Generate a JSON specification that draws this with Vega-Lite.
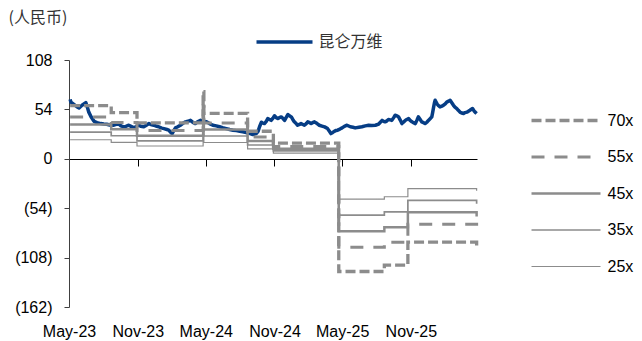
{
  "$schema": "https://vega.github.io/schema/vega-lite/v6.json",
  "width": 408,
  "height": 247,
  "autosize": {"type": "none"},
  "padding": {"left": 69, "top": 60, "right": 165, "bottom": 34},
  "background": "white",
  "config": {"view": {"stroke": null}, "font": "Liberation Sans"},
  "datasets": {
    "price": [
      {"date": "2023-05-04", "price": 65}, {"date": "2023-05-06", "price": 62}, {"date": "2023-05-14", "price": 59.5}, {"date": "2023-05-22", "price": 57}, {"date": "2023-05-28", "price": 55.5},
      {"date": "2023-06-05", "price": 58.5}, {"date": "2023-06-10", "price": 60}, {"date": "2023-06-15", "price": 61.5}, {"date": "2023-06-19", "price": 56.5}, {"date": "2023-06-23", "price": 51},
      {"date": "2023-06-29", "price": 46}, {"date": "2023-07-07", "price": 41}, {"date": "2023-07-15", "price": 39.5}, {"date": "2023-07-25", "price": 38.5}, {"date": "2023-08-02", "price": 38},
      {"date": "2023-08-10", "price": 37.8}, {"date": "2023-08-18", "price": 37}, {"date": "2023-08-29", "price": 36.7}, {"date": "2023-09-06", "price": 38}, {"date": "2023-09-12", "price": 37.8},
      {"date": "2023-09-17", "price": 36}, {"date": "2023-09-25", "price": 34.9}, {"date": "2023-09-30", "price": 35.5}, {"date": "2023-10-08", "price": 36.7}, {"date": "2023-10-14", "price": 35.5},
      {"date": "2023-10-22", "price": 33.8}, {"date": "2023-10-27", "price": 35}, {"date": "2023-11-04", "price": 36.7}, {"date": "2023-11-09", "price": 35.5}, {"date": "2023-11-17", "price": 35},
      {"date": "2023-11-23", "price": 36.5}, {"date": "2023-12-01", "price": 38.5}, {"date": "2023-12-06", "price": 37.5}, {"date": "2023-12-14", "price": 36.7}, {"date": "2023-12-22", "price": 35.5},
      {"date": "2023-12-27", "price": 35}, {"date": "2024-01-04", "price": 33.5}, {"date": "2024-01-10", "price": 33}, {"date": "2024-01-18", "price": 32}, {"date": "2024-01-23", "price": 31.3},
      {"date": "2024-01-28", "price": 29}, {"date": "2024-02-01", "price": 27.6}, {"date": "2024-02-05", "price": 30.5}, {"date": "2024-02-10", "price": 33.8}, {"date": "2024-02-16", "price": 35},
      {"date": "2024-02-23", "price": 36.7}, {"date": "2024-02-29", "price": 38.5}, {"date": "2024-03-08", "price": 40.4}, {"date": "2024-03-14", "price": 41}, {"date": "2024-03-21", "price": 42},
      {"date": "2024-03-27", "price": 40}, {"date": "2024-04-03", "price": 38.5}, {"date": "2024-04-09", "price": 40.5}, {"date": "2024-04-17", "price": 42}, {"date": "2024-04-23", "price": 41},
      {"date": "2024-05-03", "price": 40.4}, {"date": "2024-05-11", "price": 38.5}, {"date": "2024-05-20", "price": 36.7}, {"date": "2024-05-29", "price": 36}, {"date": "2024-06-07", "price": 35},
      {"date": "2024-06-15", "price": 34}, {"date": "2024-06-25", "price": 33}, {"date": "2024-07-04", "price": 32}, {"date": "2024-07-13", "price": 31.3}, {"date": "2024-07-22", "price": 30.8},
      {"date": "2024-07-31", "price": 30}, {"date": "2024-08-08", "price": 29.5}, {"date": "2024-08-17", "price": 28.7}, {"date": "2024-08-26", "price": 27.8}, {"date": "2024-09-04", "price": 26.5},
      {"date": "2024-09-13", "price": 27.6}, {"date": "2024-09-18", "price": 30}, {"date": "2024-09-22", "price": 35}, {"date": "2024-09-27", "price": 40}, {"date": "2024-10-01", "price": 39},
      {"date": "2024-10-05", "price": 38.5}, {"date": "2024-10-10", "price": 41}, {"date": "2024-10-14", "price": 44}, {"date": "2024-10-19", "price": 43}, {"date": "2024-10-23", "price": 42},
      {"date": "2024-10-28", "price": 44.5}, {"date": "2024-11-01", "price": 47}, {"date": "2024-11-06", "price": 45}, {"date": "2024-11-10", "price": 44}, {"date": "2024-11-14", "price": 45},
      {"date": "2024-11-19", "price": 45.8}, {"date": "2024-11-24", "price": 44}, {"date": "2024-11-28", "price": 42}, {"date": "2024-12-02", "price": 45}, {"date": "2024-12-07", "price": 48.4},
      {"date": "2024-12-11", "price": 47}, {"date": "2024-12-16", "price": 45.8}, {"date": "2024-12-20", "price": 43}, {"date": "2024-12-24", "price": 40.4}, {"date": "2024-12-29", "price": 38.5},
      {"date": "2025-01-02", "price": 36.7}, {"date": "2025-01-07", "price": 37.5}, {"date": "2025-01-11", "price": 38.5}, {"date": "2025-01-16", "price": 37.5}, {"date": "2025-01-20", "price": 36.7},
      {"date": "2025-01-25", "price": 38.5}, {"date": "2025-01-29", "price": 40.4}, {"date": "2025-02-03", "price": 39.5}, {"date": "2025-02-07", "price": 38.5}, {"date": "2025-02-11", "price": 39.5},
      {"date": "2025-02-16", "price": 40.4}, {"date": "2025-02-23", "price": 38.5}, {"date": "2025-03-01", "price": 36.7}, {"date": "2025-03-08", "price": 35.8}, {"date": "2025-03-15", "price": 34.9},
      {"date": "2025-03-23", "price": 33}, {"date": "2025-03-28", "price": 30}, {"date": "2025-04-01", "price": 27.6}, {"date": "2025-04-06", "price": 28.8}, {"date": "2025-04-10", "price": 30},
      {"date": "2025-04-15", "price": 31}, {"date": "2025-04-19", "price": 31.3}, {"date": "2025-04-25", "price": 32.5}, {"date": "2025-05-01", "price": 33.8}, {"date": "2025-05-07", "price": 35.5},
      {"date": "2025-05-14", "price": 36.7}, {"date": "2025-05-23", "price": 35}, {"date": "2025-05-30", "price": 34.5}, {"date": "2025-06-05", "price": 33.8}, {"date": "2025-06-15", "price": 34.5},
      {"date": "2025-06-23", "price": 35}, {"date": "2025-07-02", "price": 36}, {"date": "2025-07-11", "price": 36.7}, {"date": "2025-07-19", "price": 36.5}, {"date": "2025-07-29", "price": 36.7},
      {"date": "2025-08-07", "price": 38}, {"date": "2025-08-16", "price": 42}, {"date": "2025-08-20", "price": 41}, {"date": "2025-08-24", "price": 40.4}, {"date": "2025-08-29", "price": 41.5},
      {"date": "2025-09-02", "price": 43}, {"date": "2025-09-07", "price": 42.5}, {"date": "2025-09-11", "price": 42}, {"date": "2025-09-16", "price": 45}, {"date": "2025-09-20", "price": 47.6},
      {"date": "2025-09-25", "price": 47}, {"date": "2025-09-29", "price": 45.8}, {"date": "2025-10-04", "price": 42}, {"date": "2025-10-08", "price": 38.5}, {"date": "2025-10-12", "price": 40},
      {"date": "2025-10-17", "price": 42}, {"date": "2025-10-21", "price": 43}, {"date": "2025-10-26", "price": 44}, {"date": "2025-10-30", "price": 42}, {"date": "2025-11-04", "price": 40.4},
      {"date": "2025-11-08", "price": 39.5}, {"date": "2025-11-13", "price": 38.5}, {"date": "2025-11-17", "price": 42}, {"date": "2025-11-21", "price": 45.8}, {"date": "2025-11-26", "price": 43},
      {"date": "2025-11-30", "price": 40.4}, {"date": "2025-12-05", "price": 39.5}, {"date": "2025-12-09", "price": 38.5}, {"date": "2025-12-14", "price": 40}, {"date": "2025-12-18", "price": 42},
      {"date": "2025-12-23", "price": 44}, {"date": "2025-12-27", "price": 45.8}, {"date": "2025-12-29", "price": 50}, {"date": "2026-01-01", "price": 56.7}, {"date": "2026-01-03", "price": 61},
      {"date": "2026-01-05", "price": 64}, {"date": "2026-01-10", "price": 60}, {"date": "2026-01-14", "price": 58}, {"date": "2026-01-18", "price": 56.7}, {"date": "2026-01-23", "price": 57.5},
      {"date": "2026-01-27", "price": 58.5}, {"date": "2026-02-01", "price": 60}, {"date": "2026-02-05", "price": 62}, {"date": "2026-02-10", "price": 63}, {"date": "2026-02-14", "price": 64},
      {"date": "2026-02-19", "price": 61}, {"date": "2026-02-23", "price": 58.5}, {"date": "2026-02-27", "price": 56.5}, {"date": "2026-03-04", "price": 54.9}, {"date": "2026-03-08", "price": 53},
      {"date": "2026-03-13", "price": 51}, {"date": "2026-03-17", "price": 50}, {"date": "2026-03-22", "price": 49.5}, {"date": "2026-03-26", "price": 50.5}, {"date": "2026-03-31", "price": 51},
      {"date": "2026-04-04", "price": 52}, {"date": "2026-04-08", "price": 53}, {"date": "2026-04-15", "price": 54.9}, {"date": "2026-04-19", "price": 52.5}, {"date": "2026-04-22", "price": 51},
      {"date": "2026-04-26", "price": 49.5}
    ],
    "bands": [
      {"date": "2023-05-04", "band": "70x", "value": 58.1}, {"date": "2023-08-22", "band": "70x", "value": 50.4}, {"date": "2023-10-30", "band": "70x", "value": 39.2},
      {"date": "2024-04-24", "band": "70x", "value": 73.5}, {"date": "2024-04-26", "band": "70x", "value": 49.7}, {"date": "2024-08-21", "band": "70x", "value": 30.1},
      {"date": "2024-10-29", "band": "70x", "value": 17.2}, {"date": "2025-04-22", "band": "70x", "value": -123.2}, {"date": "2025-08-22", "band": "70x", "value": -116.2},
      {"date": "2025-10-24", "band": "70x", "value": -91.0}, {"date": "2026-04-25", "band": "70x", "value": -91.0}, {"date": "2026-04-26", "band": "70x", "value": -98.0},
      {"date": "2023-05-04", "band": "55x", "value": 45.7}, {"date": "2023-08-22", "band": "55x", "value": 39.6}, {"date": "2023-10-30", "band": "55x", "value": 30.8},
      {"date": "2024-04-24", "band": "55x", "value": 57.8}, {"date": "2024-04-26", "band": "55x", "value": 39.1}, {"date": "2024-08-21", "band": "55x", "value": 23.7},
      {"date": "2024-10-29", "band": "55x", "value": 13.5}, {"date": "2025-04-22", "band": "55x", "value": -96.8}, {"date": "2025-08-22", "band": "55x", "value": -91.3},
      {"date": "2025-10-24", "band": "55x", "value": -71.5}, {"date": "2026-04-25", "band": "55x", "value": -71.5}, {"date": "2026-04-26", "band": "55x", "value": -77.0},
      {"date": "2023-05-04", "band": "45x", "value": 37.4}, {"date": "2023-08-22", "band": "45x", "value": 32.4}, {"date": "2023-10-30", "band": "45x", "value": 25.2},
      {"date": "2024-04-24", "band": "45x", "value": 47.3}, {"date": "2024-04-26", "band": "45x", "value": 32.0}, {"date": "2024-08-21", "band": "45x", "value": 19.4},
      {"date": "2024-10-29", "band": "45x", "value": 11.0}, {"date": "2025-04-22", "band": "45x", "value": -79.2}, {"date": "2025-08-22", "band": "45x", "value": -74.7},
      {"date": "2025-10-24", "band": "45x", "value": -58.5}, {"date": "2026-04-25", "band": "45x", "value": -58.5}, {"date": "2026-04-26", "band": "45x", "value": -63.0},
      {"date": "2023-05-04", "band": "35x", "value": 29.1}, {"date": "2023-08-22", "band": "35x", "value": 25.2}, {"date": "2023-10-30", "band": "35x", "value": 19.6},
      {"date": "2024-04-24", "band": "35x", "value": 36.8}, {"date": "2024-04-26", "band": "35x", "value": 24.9}, {"date": "2024-08-21", "band": "35x", "value": 15.1},
      {"date": "2024-10-29", "band": "35x", "value": 8.6}, {"date": "2025-04-22", "band": "35x", "value": -61.6}, {"date": "2025-08-22", "band": "35x", "value": -58.1},
      {"date": "2025-10-24", "band": "35x", "value": -45.5}, {"date": "2026-04-25", "band": "35x", "value": -45.5}, {"date": "2026-04-26", "band": "35x", "value": -49.0},
      {"date": "2023-05-04", "band": "25x", "value": 20.8}, {"date": "2023-08-22", "band": "25x", "value": 18.0}, {"date": "2023-10-30", "band": "25x", "value": 14.0},
      {"date": "2024-04-24", "band": "25x", "value": 26.3}, {"date": "2024-04-26", "band": "25x", "value": 17.8}, {"date": "2024-08-21", "band": "25x", "value": 10.8},
      {"date": "2024-10-29", "band": "25x", "value": 6.1}, {"date": "2025-04-22", "band": "25x", "value": -44.0}, {"date": "2025-08-22", "band": "25x", "value": -41.5},
      {"date": "2025-10-24", "band": "25x", "value": -32.5}, {"date": "2026-04-25", "band": "25x", "value": -32.5}, {"date": "2026-04-26", "band": "25x", "value": -35.0}
    ]
  },
  "layer": [
    {
      "data": {"name": "price"},
      "mark": {"type": "line", "strokeWidth": 3.5, "interpolate": "linear", "strokeJoin": "round"},
      "encoding": {
        "x": {
          "field": "date", "type": "temporal",
          "scale": {"domain": [{"year": 2023, "month": 5, "date": 1}, {"year": 2026, "month": 4, "date": 27}]},
          "axis": {
            "orient": "bottom", "offset": -148, "title": null, "grid": false,
            "values": [{"year": 2023, "month": 5, "date": 1}, {"year": 2023, "month": 11, "date": 1}, {"year": 2024, "month": 5, "date": 1}, {"year": 2024, "month": 11, "date": 1}, {"year": 2025, "month": 5, "date": 1}, {"year": 2025, "month": 11, "date": 1}],
            "format": "%b-%y", "domainColor": "#000000", "tickColor": "#000000", "tickSize": 7,
            "labelPadding": 157, "labelFont": "Liberation Sans", "labelFontSize": 16, "labelColor": "#000000",
            "labelFlush": false, "labelOverlap": false
          }
        },
        "y": {
          "field": "price", "type": "quantitative",
          "scale": {"domain": [-162, 108], "nice": false, "zero": false},
          "axis": {
            "values": [-162, -108, -54, 0, 54, 108],
            "labelExpr": "datum.value < 0 ? '(' + (-datum.value) + ')' : datum.value + '\u00a0'",
            "title": "(人民币)", "titleAngle": 0, "titleX": -61, "titleY": -43, "titleAlign": "left", "titleBaseline": "middle",
            "titleFont": "Noto Sans CJK SC", "titleFontSize": 16, "titleFontWeight": "normal", "titleColor": "#333333",
            "grid": false, "domainColor": "#404040", "tickColor": "#404040", "tickSize": 5, "labelPadding": 12,
            "labelFont": "Liberation Sans", "labelFontSize": 16, "labelColor": "#000000"
          }
        },
        "color": {
          "datum": "昆仑万维", "type": "nominal",
          "scale": {"range": ["#063D85"]},
          "legend": {
            "orient": "none", "legendX": 185.5, "legendY": -48, "title": null,
            "symbolType": "stroke", "symbolSize": 3136, "symbolStrokeWidth": 3.5,
            "labelFont": "Noto Sans CJK SC", "labelFontSize": 16, "labelColor": "#333333", "labelOffset": 4
          }
        }
      }
    },
    {
      "data": {"name": "bands"},
      "mark": {"type": "line", "interpolate": "step-after", "color": "#8c8c8c"},
      "encoding": {
        "x": {"field": "date", "type": "temporal"},
        "y": {"field": "value", "type": "quantitative"},
        "strokeDash": {
          "field": "band", "type": "nominal",
          "scale": {"domain": ["70x", "55x", "45x", "35x", "25x"], "range": [[10, 4], [13, 10], [1, 0], [1, 0], [1, 0]]},
          "legend": {
            "orient": "none", "legendX": 460.5, "legendY": 50.5, "title": null, "clipHeight": 20, "rowPadding": 16.5,
            "symbolType": "stroke", "symbolSize": 4761, "symbolStrokeColor": "#8c8c8c",
            "labelFont": "Liberation Sans", "labelFontSize": 16, "labelColor": "#000000", "labelOffset": 5
          }
        },
        "strokeWidth": {
          "field": "band", "type": "nominal",
          "scale": {"type": "ordinal", "domain": ["70x", "55x", "45x", "35x", "25x"], "range": [3.3, 3, 2.5, 1.7, 1.2]},
          "legend": {
            "orient": "none", "legendX": 460.5, "legendY": 50.5, "title": null, "clipHeight": 20, "rowPadding": 16.5,
            "symbolType": "stroke", "symbolSize": 4761, "symbolStrokeColor": "#8c8c8c",
            "labelFont": "Liberation Sans", "labelFontSize": 16, "labelColor": "#000000", "labelOffset": 5
          }
        }
      }
    }
  ]
}
